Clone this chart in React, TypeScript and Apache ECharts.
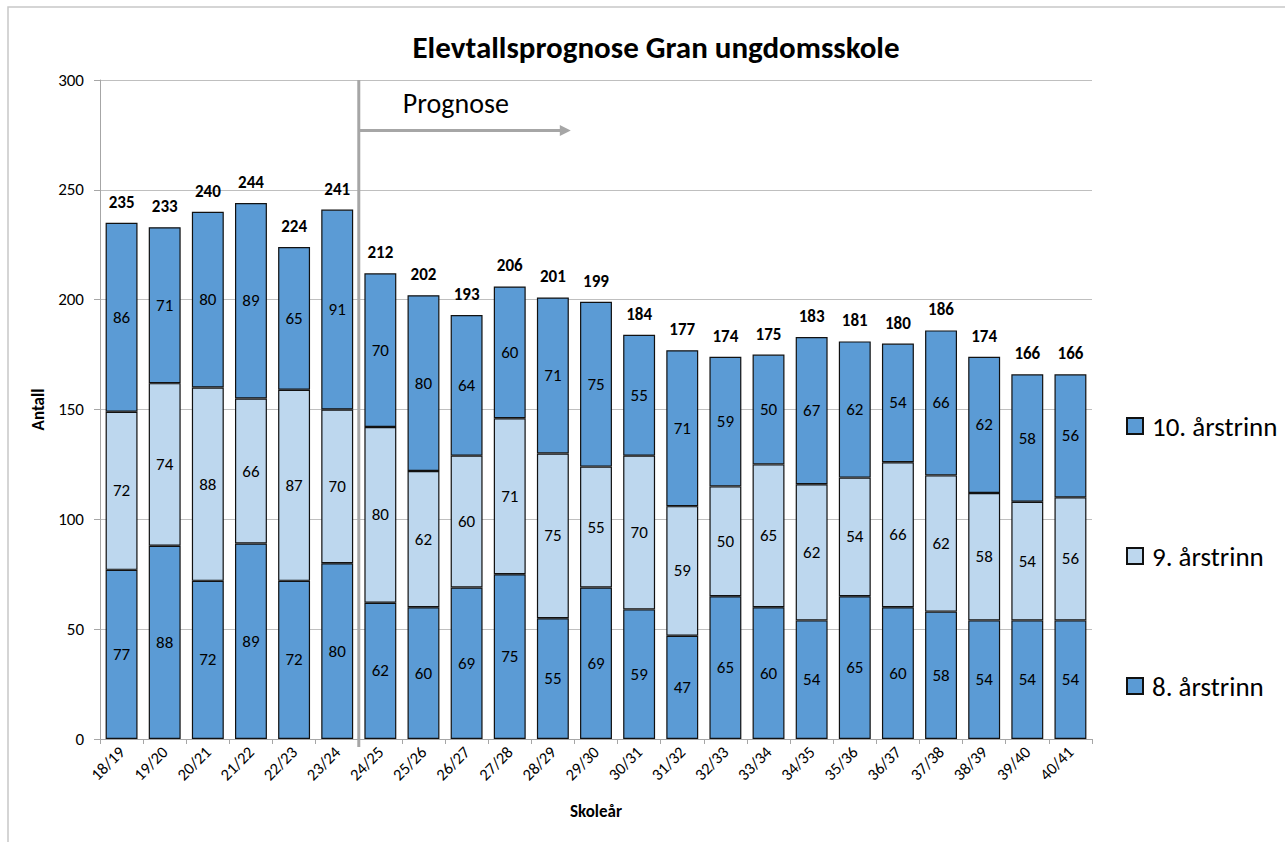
import React, { useEffect, useRef } from "react";
import * as echarts from "echarts";

const categories = [
  "18/19", "19/20", "20/21", "21/22", "22/23", "23/24", "24/25", "25/26",
  "26/27", "27/28", "28/29", "29/30", "30/31", "31/32", "32/33", "33/34",
  "34/35", "35/36", "36/37", "37/38", "38/39", "39/40", "40/41",
];
const grade8 = [77, 88, 72, 89, 72, 80, 62, 60, 69, 75, 55, 69, 59, 47, 65, 60, 54, 65, 60, 58, 54, 54, 54];
const grade9 = [72, 74, 88, 66, 87, 70, 80, 62, 60, 71, 75, 55, 70, 59, 50, 65, 62, 54, 66, 62, 58, 54, 56];
const grade10 = [86, 71, 80, 89, 65, 91, 70, 80, 64, 60, 71, 75, 55, 71, 59, 50, 67, 62, 54, 66, 62, 58, 56];
const totals = [235, 233, 240, 244, 224, 241, 212, 202, 193, 206, 201, 199, 184, 177, 174, 175, 183, 181, 180, 186, 174, 166, 166];

const seriesNames = ["8. årstrinn", "9. årstrinn", "10. årstrinn"];
const legendOrder = ["10. årstrinn", "9. årstrinn", "8. årstrinn"];
const yMin = 0;
const yMax = 300;
const yInterval = 50;
const forecastStartIndex = 6;
const arrowValue = 277;

const FONT = "Carlito, Calibri, Lato, 'Liberation Sans', sans-serif";

export default function App() {
  const ref = useRef<HTMLDivElement>(null);

  useEffect(() => {
    const chart = echarts.init(ref.current!, null, { renderer: "svg" });
    const darkBlue = "#5B9BD5";
    const lightBlue = "#BDD7EE";
    const segLabel = {
      show: true,
      position: "inside",
      color: "#000",
      fontSize: 17,
      fontFamily: FONT,
    };
    const mkBar = (name: string, data: number[], color: string) => ({
      name,
      type: "bar",
      stack: "total",
      data,
      barCategoryGap: "26%",
      itemStyle: { color, borderColor: "#111", borderWidth: 1.2 },
      label: segLabel,
    });

    chart.setOption({
      animation: false,
      backgroundColor: "#fff",
      textStyle: { fontFamily: FONT },
      title: {
        text: "Elevtallsprognose Gran ungdomsskole",
        left: 651,
        textAlign: "center",
        top: 26,
        textStyle: { fontSize: 31, fontWeight: "bold", color: "#000", fontFamily: FONT },
      },
      legend: {
        orient: "vertical",
        left: 1121,
        top: 407,
        data: legendOrder,
        itemWidth: 16,
        itemHeight: 16,
        itemGap: 102,
        textStyle: { fontSize: 27, color: "#000", fontFamily: FONT, lineHeight: 28, padding: [0, 0, 0, 4] },
        icon: "rect",
      },
      grid: { left: 100, right: 193, top: 80, bottom: 103, containLabel: false },
      xAxis: {
        type: "category",
        data: categories,
        name: "Skoleår",
        nameLocation: "middle",
        nameGap: 64,
        nameTextStyle: { fontSize: 17, fontWeight: "bold", color: "#000", fontFamily: FONT },
        axisLine: { lineStyle: { color: "#A6A6A6", width: 1 } },
        axisTick: { show: true, alignWithLabel: false, length: 5, lineStyle: { color: "#A6A6A6" } },
        axisLabel: { rotate: 45, fontSize: 16.5, color: "#000", margin: 10, fontFamily: FONT, interval: 0 },
      },
      yAxis: {
        type: "value",
        min: yMin,
        max: yMax,
        interval: yInterval,
        name: "Antall",
        nameLocation: "middle",
        nameGap: 52,
        nameTextStyle: { fontSize: 17, fontWeight: "bold", color: "#000", fontFamily: FONT },
        axisLine: { show: true, lineStyle: { color: "#A6A6A6", width: 1 } },
        axisTick: { show: true, length: 6, lineStyle: { color: "#A6A6A6" } },
        axisLabel: { fontSize: 17, color: "#000", margin: 16, fontFamily: FONT },
        splitLine: { lineStyle: { color: "#BFBFBF", width: 1 } },
      },
      series: [
        mkBar(seriesNames[0], grade8, darkBlue),
        mkBar(seriesNames[1], grade9, lightBlue),
        mkBar(seriesNames[2], grade10, darkBlue),
        {
          name: "Totalt",
          type: "bar",
          stack: "total",
          data: totals.map(() => 0),
          barCategoryGap: "26%",
          silent: true,
          itemStyle: { color: "rgba(0,0,0,0)", borderWidth: 0 },
          label: {
            show: true,
            position: "top",
            distance: 12,
            color: "#000",
            fontSize: 17,
            fontWeight: "bold",
            fontFamily: FONT,
            formatter: (p: any) => String(totals[p.dataIndex]),
          },
        },
      ],
    });

    const xa = chart.convertToPixel({ xAxisIndex: 0 }, categories[forecastStartIndex - 1]) as number;
    const xb = chart.convertToPixel({ xAxisIndex: 0 }, categories[forecastStartIndex]) as number;
    const xDiv = (xa + xb) / 2;
    const yTop = chart.convertToPixel({ yAxisIndex: 0 }, yMax) as number;
    const yBottom = chart.convertToPixel({ yAxisIndex: 0 }, yMin) as number;
    const yArrow = chart.convertToPixel({ yAxisIndex: 0 }, arrowValue) as number;
    const arrowEnd = xDiv + 212;

    chart.setOption({
      graphic: [
        {
          type: "rect",
          shape: { x: 8, y: 7, width: 1400, height: 1000 },
          style: { fill: "none", stroke: "#C8C8C8", lineWidth: 1.5 },
          silent: true,
          z: 100,
        },
        {
          type: "line",
          shape: { x1: xDiv, y1: yTop, x2: xDiv, y2: yBottom + 8 },
          style: { stroke: "#A6A6A6", lineWidth: 3 },
          z: 100,
        },
        {
          type: "line",
          shape: { x1: xDiv, y1: yArrow, x2: arrowEnd - 8, y2: yArrow },
          style: { stroke: "#A6A6A6", lineWidth: 3 },
          z: 100,
        },
        {
          type: "polygon",
          shape: { points: [[arrowEnd - 11, yArrow - 5.5], [arrowEnd, yArrow], [arrowEnd - 11, yArrow + 5.5]] },
          style: { fill: "#A6A6A6" },
          z: 100,
        },
        {
          type: "text",
          x: xDiv + 44,
          y: yArrow - 27,
          style: {
            text: "Prognose",
            fontSize: 28,
            fill: "#000",
            fontFamily: FONT,
            verticalAlign: "middle",
          },
          z: 100,
        },
      ],
    });

    return () => chart.dispose();
  }, []);

  return (
    <div
      ref={ref}
      style={{ position: "fixed", left: 0, top: 0, width: 1285, height: 842, background: "#fff" }}
    />
  );
}
